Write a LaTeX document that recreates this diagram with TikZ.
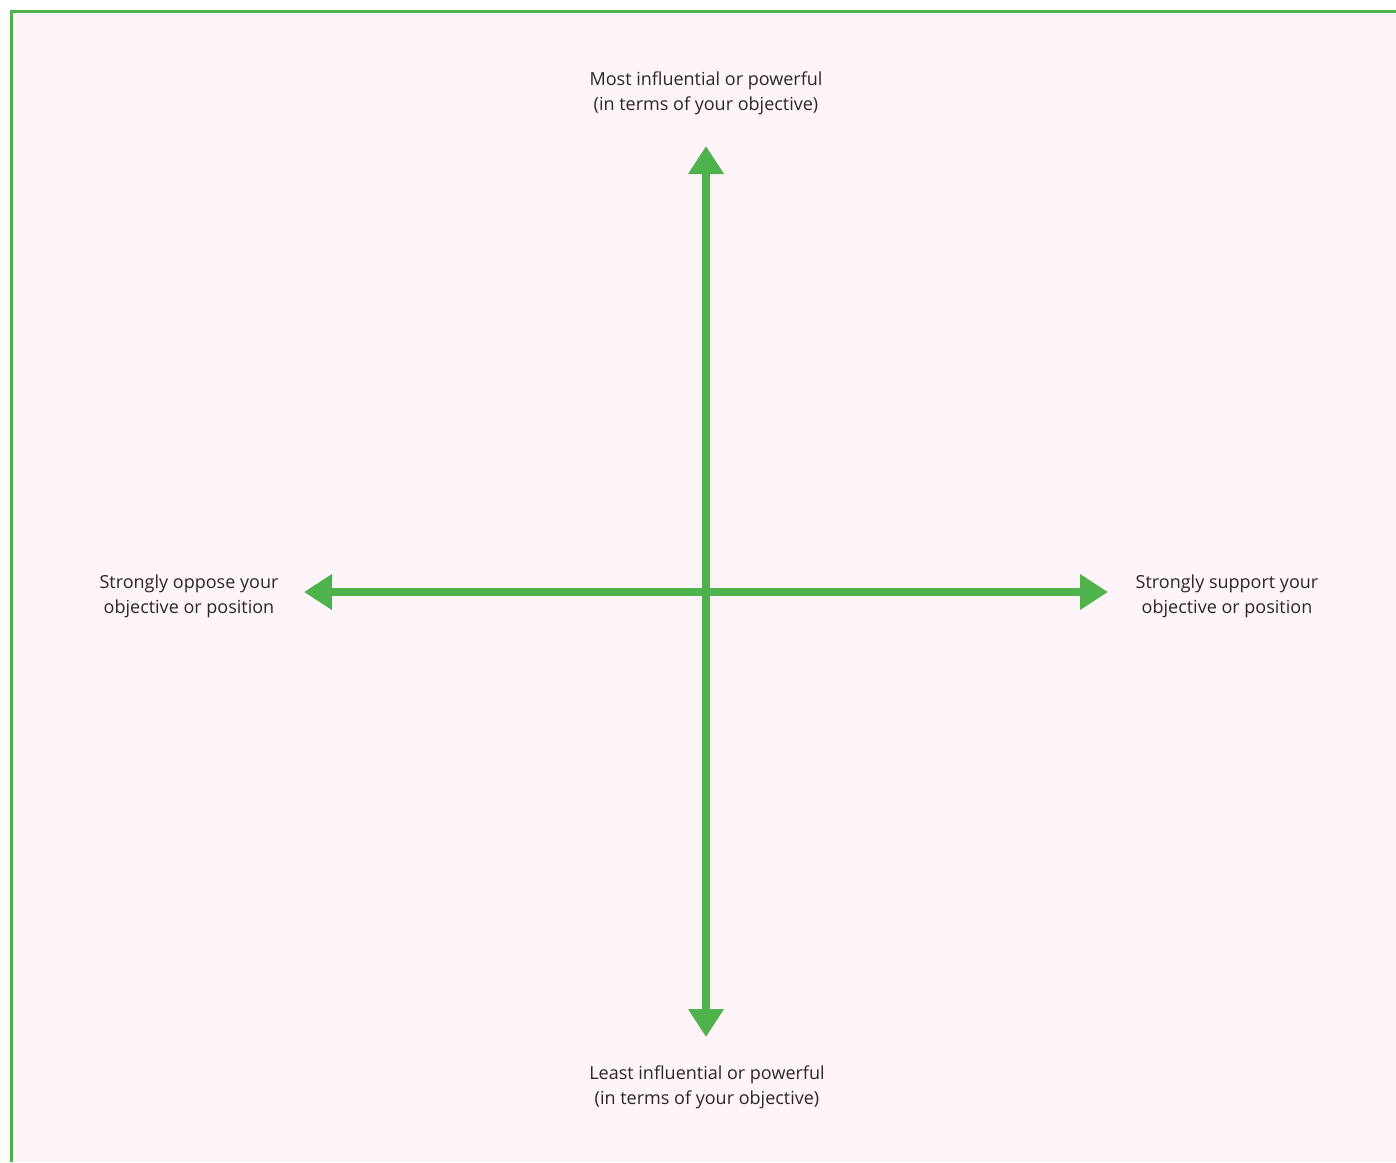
\documentclass[tikz,border=0pt]{standalone}
\usepackage{fontspec}
\setmainfont{Open Sans}
\usetikzlibrary{arrows.meta}
\definecolor{axisgreen}{RGB}{78,178,77}
\definecolor{bgpink}{RGB}{255,245,248}
\definecolor{labelgray}{RGB}{40,40,40}
\tikzset{
  axis/.style={draw=axisgreen, line width=8pt,
    {Triangle[length=28pt,width=34pt]}-{Triangle[length=28pt,width=34pt]}},
  label/.style={align=center, text=labelgray, inner sep=0pt,
    font=\fontsize{18}{25}\selectfont},
}
\begin{document}
\begin{tikzpicture}[x=1pt,y=-1pt]
  \useasboundingbox (0,0) rectangle (1396,1162);
  % canvas and frame
  \fill[white] (0,0) rectangle (1396,1162);
  \fill[bgpink] (10,10) rectangle (1396,1162);
  \draw[axisgreen, line width=3pt] (11.5,1162) -- (11.5,11.5) -- (1396,11.5);
  % axis end points
  \coordinate (n) at (706,146);
  \coordinate (s) at (706,1037);
  \coordinate (w) at (304,592);
  \coordinate (e) at (1108,592);
  % axes
  \draw[axis] (s) -- (n);
  \draw[axis] (w) -- (e);
  % labels
  \node[label] (top) at (706,93) {Most influential or powerful\\(in terms of your objective)};
  \node[label] (bottom) at (707,1087) {Least influential or powerful\\(in terms of your objective)};
  \node[label] (left) at (189,596) {Strongly oppose your\\objective or position};
  \node[label] (right) at (1227,596) {Strongly support your\\objective or position};
\end{tikzpicture}
\end{document}
